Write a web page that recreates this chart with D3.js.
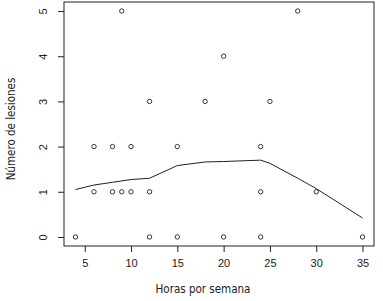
<!DOCTYPE html>
<html>
<head>
<meta charset="utf-8">
<script src="https://cdn.jsdelivr.net/npm/d3@7"></script>
<style>
  body { margin: 0; background: #fff; }
  svg { display: block; font-family: "DejaVu Sans", sans-serif; font-stretch: condensed; }
</style>
</head>
<body>
<div id="chart"></div>
<script>
// Observaciones: horas por semana vs. número de lesiones
const horas    = [4, 6, 6, 8, 8, 9, 9, 10, 10, 12, 12, 12, 15, 15, 18, 20, 20, 24, 24, 24, 25, 28, 30, 35]
const lesiones = [0, 2, 1, 2, 1, 5, 1, 2, 1, 3, 1, 0, 2, 0, 3, 4, 0, 2, 1, 0, 3, 5, 1, 0]

// Curva lowess (valores ajustados en cada x única)
const lowessX = [4, 6, 8, 9, 10, 12, 15, 18, 20, 24, 25, 28, 30, 35]
const lowessY = [1.05, 1.15, 1.21, 1.24, 1.27, 1.30, 1.58, 1.66, 1.67, 1.70, 1.63, 1.30, 1.07, 0.42]

const xTicks = [5, 10, 15, 20, 25, 30, 35]
const yTicks = [0, 1, 2, 3, 4, 5]

const width = 383, height = 301
const box = { left: 64, right: 374, top: 2, bottom: 246 }

const svg = d3.select("#chart").append("svg")
    .attr("width", width)
    .attr("height", height)

// Escalas con el 4% extra de R
const x = d3.scaleLinear().domain([2.76, 36.24]).range([box.left, box.right])
const y = d3.scaleLinear().domain([-0.2, 5.2]).range([box.bottom, box.top])

const ink = "#222"
const fmt = d3.format("d")

// Ejes
svg.append("g")
    .attr("transform", `translate(0,${box.bottom})`)
    .call(d3.axisBottom(x).tickValues(xTicks).tickFormat(fmt).tickSize(6).tickPadding(7))
    .call(g => g.select(".domain").remove())
    .call(g => g.selectAll(".tick line").attr("stroke", ink))
    .call(g => g.selectAll(".tick text").attr("fill", ink).style("font-size", "11px"))

svg.append("g")
    .attr("transform", `translate(${box.left},0)`)
    .call(d3.axisLeft(y).tickValues(yTicks).tickFormat(fmt).tickSize(6).tickPadding(6))
    .call(g => g.select(".domain").remove())
    .call(g => g.selectAll(".tick line").attr("stroke", ink))
    .call(g => g.selectAll(".tick text")
        .attr("fill", ink)
        .style("font-size", "11px")
        .attr("x", null)
        .attr("text-anchor", "middle")
        .attr("transform", "translate(-21,0) rotate(-90)")
        .attr("dy", "0.35em"))

// Marco
svg.append("rect")
    .attr("x", box.left)
    .attr("y", box.top)
    .attr("width", box.right - box.left)
    .attr("height", box.bottom - box.top)
    .attr("fill", "none")
    .attr("stroke", ink)
    .attr("stroke-width", 1)

// Títulos
svg.append("text")
    .attr("x", 203)
    .attr("y", 293)
    .attr("text-anchor", "middle")
    .attr("fill", ink)
    .style("font-size", "11.5px")
    .text("Horas por semana")

svg.append("text")
    .attr("transform", "translate(15,129) rotate(-90)")
    .attr("text-anchor", "middle")
    .attr("fill", ink)
    .style("font-size", "11.5px")
    .text("Número de lesiones")

// Puntos
svg.append("g")
    .selectAll("circle")
    .data(d3.zip(horas, lesiones))
    .join("circle")
    .attr("cx", d => x(d[0]))
    .attr("cy", d => y(d[1]))
    .attr("r", 2.2)
    .attr("fill", "none")
    .attr("stroke", ink)
    .attr("stroke-width", 0.9)

// Lowess
const line = d3.line().x(d => x(d[0])).y(d => y(d[1]))
svg.append("path")
    .datum(d3.zip(lowessX, lowessY))
    .attr("d", line)
    .attr("fill", "none")
    .attr("stroke", ink)
    .attr("stroke-width", 1)
</script>
</body>
</html>
